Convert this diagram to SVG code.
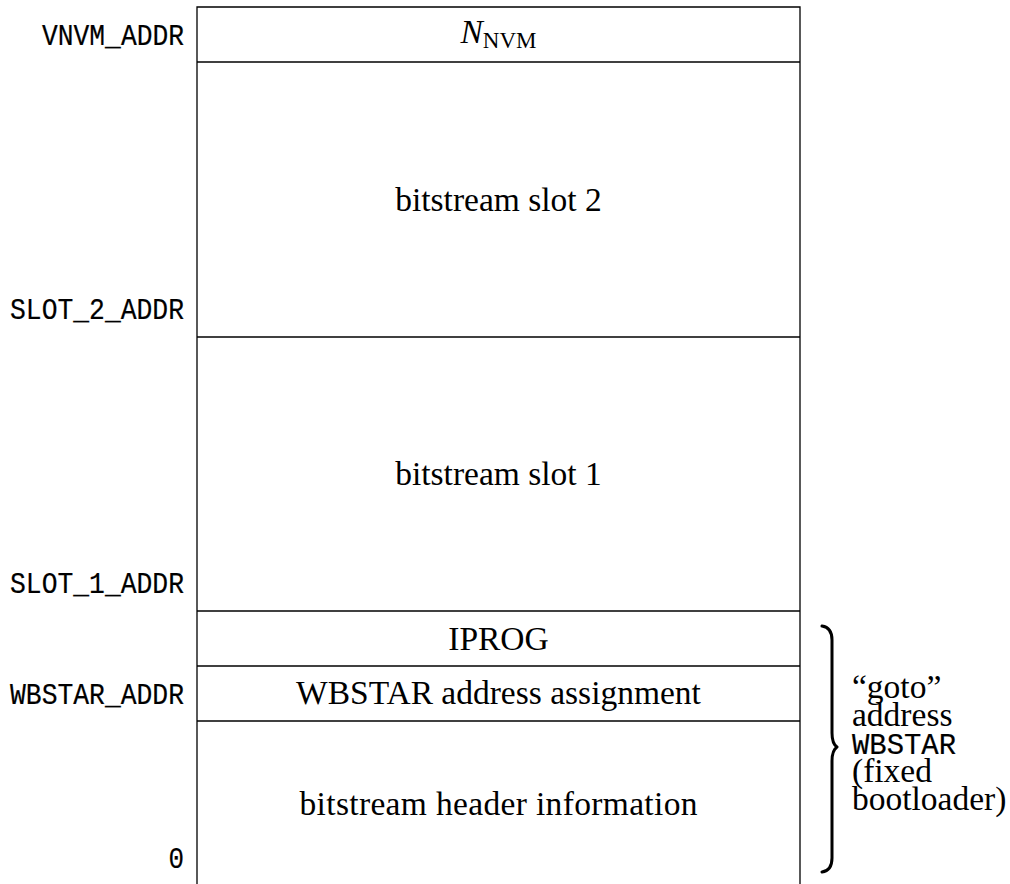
<svg xmlns="http://www.w3.org/2000/svg" width="1010" height="884" viewBox="0 0 1010 884">
  <style>
    .bg { fill: #ffffff; }
    .frame { fill: none; stroke: #000; stroke-width: 1.3; }
    .sep { stroke: #000; stroke-width: 1.3; }
    .rm { font-family: "Liberation Serif", "DejaVu Serif", serif; font-size: 33.5px; fill: #000; }
    .tt { font-family: "Liberation Mono", "DejaVu Sans Mono", monospace; font-size: 29px; fill: #000; stroke: #000; stroke-width: 0.2; }
    .brace { fill: none; stroke: #000; stroke-width: 3; stroke-linecap: round; stroke-linejoin: round; }
  </style>

  <rect class="bg" x="0" y="0" width="1010" height="884"/>

  <!-- memory map outline: open at the bottom -->
  <g id="memory-frame">
    <path class="frame" d="M197 884 V7 H800 V884"/>
  </g>

  <!-- address labels on the left -->
  <g id="addr-labels" class="tt">
    <text x="42" y="45" textLength="142" lengthAdjust="spacingAndGlyphs">VNVM_ADDR</text>
    <text x="10" y="319" textLength="174" lengthAdjust="spacingAndGlyphs">SLOT_2_ADDR</text>
    <text x="10" y="593" textLength="174" lengthAdjust="spacingAndGlyphs">SLOT_1_ADDR</text>
    <text x="10" y="704" textLength="174" lengthAdjust="spacingAndGlyphs">WBSTAR_ADDR</text>
    <text x="168.5" y="868" textLength="15.5" lengthAdjust="spacingAndGlyphs">0</text>
  </g>

  <!-- regions, top to bottom -->
  <g id="region-nvm">
    <line class="sep" x1="197" y1="62" x2="800" y2="62"/>
    <text class="rm" x="498.5" y="43" text-anchor="middle"><tspan font-style="italic">N</tspan><tspan font-size="23" dy="5">NVM</tspan></text>
  </g>

  <g id="region-slot2">
    <line class="sep" x1="197" y1="337" x2="800" y2="337"/>
    <text class="rm" x="498.5" y="211" text-anchor="middle">bitstream slot 2</text>
  </g>

  <g id="region-slot1">
    <line class="sep" x1="197" y1="611" x2="800" y2="611"/>
    <text class="rm" x="498.5" y="485" text-anchor="middle">bitstream slot 1</text>
  </g>

  <g id="region-iprog">
    <line class="sep" x1="197" y1="666" x2="800" y2="666"/>
    <text class="rm" x="498.5" y="650" text-anchor="middle">IPROG</text>
  </g>

  <g id="region-wbstar">
    <line class="sep" x1="197" y1="721" x2="800" y2="721"/>
    <text class="rm" x="498.5" y="704" text-anchor="middle">WBSTAR address assignment</text>
  </g>

  <g id="region-header">
    <text class="rm" x="498.5" y="815" text-anchor="middle" textLength="398" lengthAdjust="spacing">bitstream header information</text>
  </g>

  <!-- curly brace grouping the bootloader regions -->
  <g id="connectors">
    <path class="brace" d="M822 626 C829 627 832 632 832 640 L832 733 C832 741 834 745 837 747 C834 749 832 753 832 761 L832 858 C832 866 829 871 822 872"/>
  </g>

  <g id="brace-note">
    <text class="rm" x="852" y="698">“goto”</text>
    <text class="rm" x="852" y="726">address</text>
    <text class="tt" x="852" y="754" textLength="104" lengthAdjust="spacingAndGlyphs">WBSTAR</text>
    <text class="rm" x="852" y="782">(fixed</text>
    <text class="rm" x="852" y="810">bootloader)</text>
  </g>
</svg>
